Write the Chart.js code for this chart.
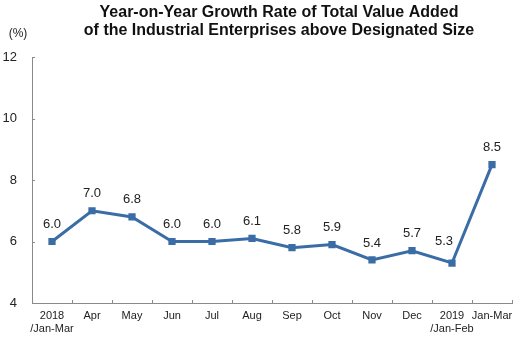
<!DOCTYPE html>
<html>
<head>
<meta charset="utf-8">
<script src="https://cdn.jsdelivr.net/npm/chart.js@4/dist/chart.umd.min.js"></script>
<style>
  html, body { margin: 0; padding: 0; background: #fff; }
  #wrap { position: relative; width: 520px; height: 339px; }
</style>
</head>
<body>
<div id="wrap"><canvas id="myChart" width="520" height="339"></canvas></div>
<script>
const meses = [['2018', '/Jan-Mar'], 'Apr', 'May', 'Jun', 'Jul', 'Aug', 'Sep', 'Oct', 'Nov', 'Dec', ['2019', '/Jan-Feb'], 'Jan-Mar'];
const crecimiento = [6.0, 7.0, 6.8, 6.0, 6.0, 6.1, 5.8, 5.9, 5.4, 5.7, 5.3, 8.5];
const ticksY = [4, 6, 8, 10, 12];
const titulo = ['Year-on-Year Growth Rate of Total Value Added', 'of the Industrial Enterprises above Designated Size'];

const colorLinea = '#3a6da6';
const colorEje = '#8a8a8a';
const fuente = '"Liberation Sans", Arial, sans-serif';

// titulo, unidad y valores sobre cada punto
const textos = {
  id: 'textos',
  afterDatasetsDraw(chart) {
    const ctx = chart.ctx;
    ctx.save();
    ctx.fillStyle = '#111';
    ctx.textAlign = 'center';
    ctx.textBaseline = 'alphabetic';
    ctx.font = 'bold 16px ' + fuente;
    ctx.fillText(titulo[0], 279, 17);
    ctx.fillText(titulo[1], 279, 35);

    ctx.font = '12px ' + fuente;
    ctx.fillStyle = '#222';
    ctx.fillText('(%)', 18, 37);

    ctx.font = '13px ' + fuente;
    ctx.textBaseline = 'middle';
    const meta = chart.getDatasetMeta(0);
    meta.data.forEach((p, i) => {
      let dx = 0, dy = 17;
      // si el siguiente tramo sube mucho, el texto se corre a la izquierda
      if (i < crecimiento.length - 1 && crecimiento[i + 1] - crecimiento[i] > 2) {
        dx = -8;
        dy = 22;
      }
      ctx.fillText(crecimiento[i].toFixed(1), p.x + dx, p.y - dy);
    });
    ctx.restore();
  }
};

// marcas cortas hacia adentro en ambos ejes
const marcas = {
  id: 'marcas',
  afterDraw(chart) {
    const { ctx, chartArea: a, scales: { x, y } } = chart;
    ctx.save();
    ctx.strokeStyle = colorEje;
    ctx.lineWidth = 1;
    ctx.beginPath();
    for (let i = 0; i <= meses.length; i++) {
      let px;
      if (i === 0) px = a.left;
      else if (i === meses.length) px = a.right;
      else px = (x.getPixelForValue(i - 1) + x.getPixelForValue(i)) / 2;
      px = Math.round(px) + 0.5;
      ctx.moveTo(px, a.bottom);
      ctx.lineTo(px, a.bottom - 3);
    }
    ticksY.forEach(v => {
      const py = Math.round(y.getPixelForValue(v)) + 0.5;
      ctx.moveTo(a.left, py);
      ctx.lineTo(a.left + 3, py);
    });
    ctx.stroke();
    ctx.restore();
  }
};

const config = {
  type: 'line',
  data: {
    labels: meses,
    datasets: [{
      data: crecimiento,
      borderColor: colorLinea,
      backgroundColor: colorLinea,
      borderWidth: 3,
      pointStyle: 'rect',
      pointRadius: 3,
      pointHoverRadius: 3,
      tension: 0,
      fill: false
    }]
  },
  options: {
    responsive: false,
    animation: false,
    events: [],
    layout: { padding: { top: 57, right: 8, bottom: 0, left: 0 } },
    plugins: {
      legend: { display: false },
      tooltip: { enabled: false },
      title: { display: false }
    },
    scales: {
      x: {
        offset: true,
        grid: { display: true, drawOnChartArea: false, drawTicks: false },
        border: { display: true, color: colorEje, width: 1 },
        ticks: {
          color: '#222',
          font: { family: fuente, size: 11 },
          padding: 6,
          maxRotation: 0,
          autoSkip: false
        },
        afterFit(scale) { scale.height = 36; }
      },
      y: {
        min: 4,
        max: 12,
        afterBuildTicks(scale) { scale.ticks = ticksY.map(v => ({ value: v })); },
        grid: { display: true, drawOnChartArea: false, drawTicks: false },
        border: { display: true, color: colorEje, width: 1 },
        ticks: {
          color: '#222',
          font: { family: fuente, size: 13 },
          padding: 15
        },
        afterFit(scale) { scale.width = 32; }
      }
    }
  },
  plugins: [textos, marcas]
};

new Chart(document.getElementById('myChart'), config);
</script>
</body>
</html>
